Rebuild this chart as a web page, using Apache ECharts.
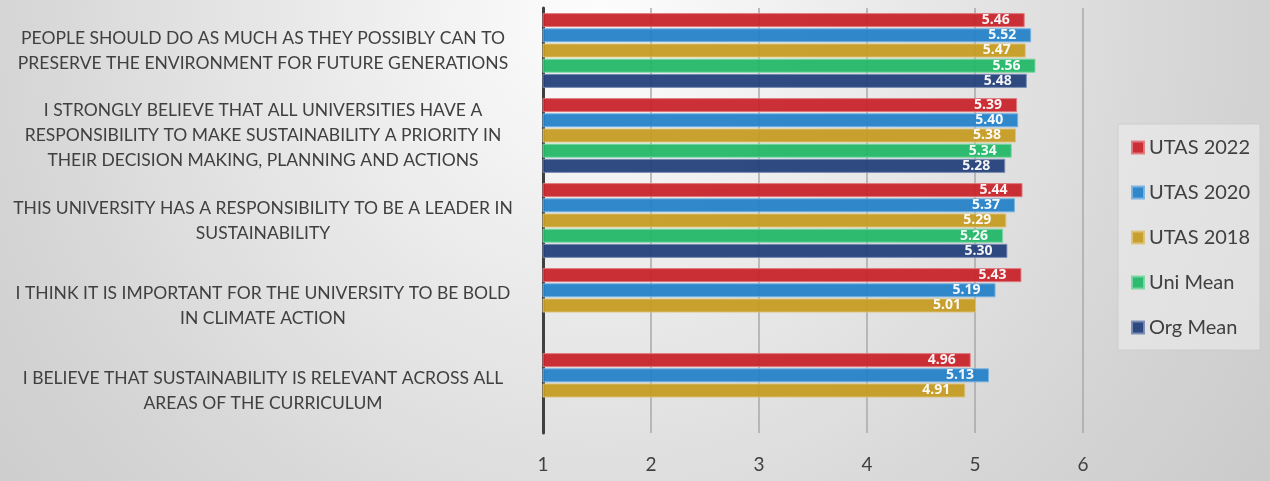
<!DOCTYPE html>
<html>
<head>
<meta charset="utf-8">
<style>
  html, body { margin: 0; padding: 0; }
  #chart { width: 1270px; height: 481px; }
</style>
<script src="https://cdn.jsdelivr.net/npm/echarts@6/dist/echarts.min.js"></script>
</head>
<body>
<div id="chart"></div>
<script>
// Data
var categories = [
    'PEOPLE SHOULD DO AS MUCH AS THEY POSSIBLY CAN TO\nPRESERVE THE ENVIRONMENT FOR FUTURE GENERATIONS',
    'I STRONGLY BELIEVE THAT ALL UNIVERSITIES HAVE A\nRESPONSIBILITY TO MAKE SUSTAINABILITY A PRIORITY IN\nTHEIR DECISION MAKING, PLANNING AND ACTIONS',
    'THIS UNIVERSITY HAS A RESPONSIBILITY TO BE A LEADER IN\nSUSTAINABILITY',
    'I THINK IT IS IMPORTANT FOR THE UNIVERSITY TO BE BOLD\nIN CLIMATE ACTION',
    'I BELIEVE THAT SUSTAINABILITY IS RELEVANT ACROSS ALL\nAREAS OF THE CURRICULUM'
];
var seriesNames = ['UTAS 2022', 'UTAS 2020', 'UTAS 2018', 'Uni Mean', 'Org Mean'];
var utas2022 = [5.46, 5.39, 5.44, 5.43, 4.96];
var utas2020 = [5.52, 5.40, 5.37, 5.19, 5.13];
var utas2018 = [5.47, 5.38, 5.29, 5.01, 4.91];
var uniMean  = [5.56, 5.34, 5.26, null, null];
var orgMean  = [5.48, 5.28, 5.30, null, null];
var xTicks = [1, 2, 3, 4, 5, 6];

var colors = ['#c8232a', '#2482c9', '#c69b22', '#22b868', '#233f7a'];
var borders = ['#e07a7e', '#7ab3e0', '#dcc27a', '#7ad7a3', '#7a8cb3'];

var chart = echarts.init(document.getElementById('chart'));

var makeSeries = function(name, data, i) {
    return {
        name: name,
        type: 'bar',
        data: data,
        barCategoryGap: '12%',
        barGap: '8%',
        itemStyle: {
            color: colors[i],
            borderColor: borders[i],
            borderWidth: 1,
            opacity: 0.94
        },
        label: {
            show: true,
            position: 'insideRight',
            distance: 15,
            color: '#ffffff',
            fontWeight: 'bold',
            fontSize: 14,
            fontFamily: '"Open Sans", sans-serif',
            formatter: function(p) { return p.value.toFixed(2); }
        }
    };
};

chart.setOption({
    backgroundColor: {
        type: 'radial',
        x: 600, y: 20, r: 900,
        global: true,
        colorStops: [
            { offset: 0, color: '#fdfdfd' },
            { offset: 0.65, color: '#d6d6d6' },
            { offset: 1, color: '#c6c6c6' }
        ]
    },
    animation: false,
    textStyle: { fontFamily: 'Lato, sans-serif' },
    grid: { left: 543, right: 187, top: 8, bottom: 48 },
    legend: {
        orient: 'vertical',
        left: 1118,
        top: 124,
        padding: [13, 10, 12, 13],
        itemWidth: 12,
        itemHeight: 12,
        itemGap: 24,
        icon: 'rect',
        backgroundColor: 'rgba(238,238,238,0.55)',
        borderColor: 'rgba(200,200,200,0.7)',
        borderWidth: 1,
        data: seriesNames,
        textStyle: { fontSize: 20, lineHeight: 21, color: '#404040', fontFamily: 'Lato, sans-serif' }
    },
    xAxis: {
        type: 'value',
        min: xTicks[0],
        max: xTicks[xTicks.length - 1],
        interval: 1,
        axisLine: { show: false },
        axisTick: { show: false },
        axisLabel: { fontSize: 19, color: '#404040', margin: 22 },
        splitLine: { lineStyle: { color: '#a9a9a9', width: 1.5 } }
    },
    yAxis: {
        type: 'category',
        inverse: true,
        data: categories,
        axisLine: { lineStyle: { color: '#404040', width: 3 } },
        axisTick: { show: false },
        axisLabel: {
            fontSize: 17.5,
            lineHeight: 25,
            color: '#404040',
            align: 'center',
            margin: 280
        }
    },
    series: [
        makeSeries(seriesNames[0], utas2022, 0),
        makeSeries(seriesNames[1], utas2020, 1),
        makeSeries(seriesNames[2], utas2018, 2),
        makeSeries(seriesNames[3], uniMean, 3),
        makeSeries(seriesNames[4], orgMean, 4)
    ]
});
</script>
</body>
</html>
